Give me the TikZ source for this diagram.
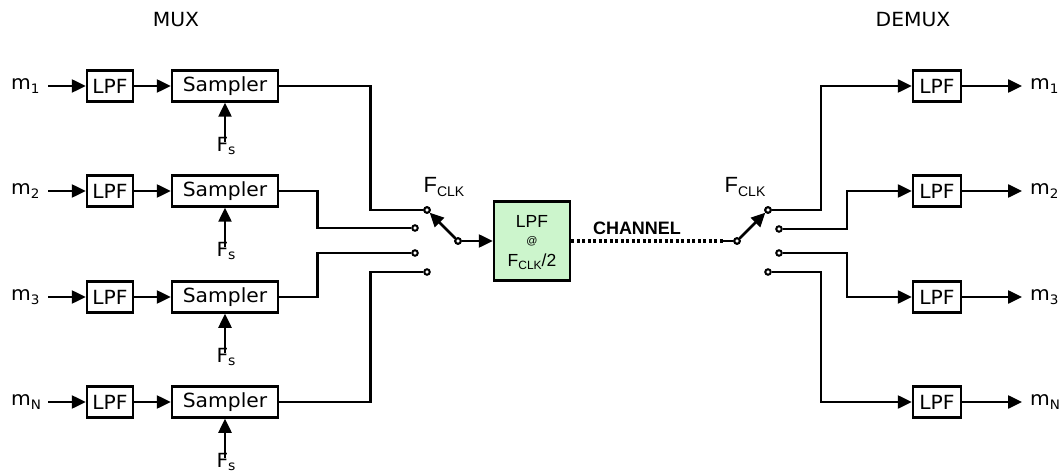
\documentclass[tikz,border=0pt]{standalone}
\usepackage{fontspec}
\setmainfont{DejaVu Sans}[FakeStretch=1.04]
\newfontfamily\arialf{Liberation Sans}
\usetikzlibrary{arrows.meta}
\tikzset{
  wire/.style={line width=2.5pt},
  arr/.style={wire,-{Triangle[length=14pt,width=13pt]}},
  blk/.style={draw,line width=2.5pt,rectangle,inner sep=0pt,minimum height=31pt,font=\fontsize{19.5}{20}\selectfont},
  lpfbox/.style={blk,minimum width=46pt},
  sampbox/.style={blk,minimum width=106pt},
  lbl/.style={inner sep=0pt,font=\fontsize{19.5}{20}\selectfont},
  contact/.style={circle,draw,fill=white,line width=2pt,inner sep=0pt,minimum size=5.5pt},
}
\newcommand{\msub}[1]{m\raisebox{-0.35ex}{\fontsize{13}{13}\selectfont #1}}
\newcommand{\fsub}{F\raisebox{-0.35ex}{\fontsize{13.5}{13}\selectfont s}}
\newcommand{\fclk}{{\arialf\fontsize{22}{22}\selectfont F\raisebox{-0.3ex}{\fontsize{14}{14}\selectfont CLK}}}
\begin{document}
\begin{tikzpicture}[x=1pt,y=-1pt]
\useasboundingbox (0,0) rectangle (1063,473);
% headings
\node[lbl] (mux) at (176,20) {MUX};
\node[lbl] (demux) at (913,20) {DEMUX};
% left rows
\foreach \r/\y/\s in {1/86/1,2/191/2,3/297/3,4/402/N}{
  \node[lbl,anchor=west] (mL\r) at (11,\y) {\msub{\s}};
  \node[lpfbox] (lpfL\r) at (110,\y) {LPF};
  \node[sampbox] (samp\r) at (225,\y) {Sampler};
  \node[lbl] (fs\r) at (226,\y+60) {\fsub};
  \draw[arr] (48,\y) -- (lpfL\r.west);
  \draw[arr] (lpfL\r.east) -- (samp\r.west);
  \draw[arr] ([yshift=-5pt]fs\r.north -| samp\r.south) -- (samp\r.south);
}
% left contacts and pivot
\node[contact] (cL1) at (427,210) {};
\node[contact] (cL2) at (415,228) {};
\node[contact] (cL3) at (415,253) {};
\node[contact] (cL4) at (427,272) {};
\node[contact] (pL) at (458,241) {};
\draw[wire] (samp1.east) -- ++(91,0) |- (cL1.west);
\draw[wire] (samp2.east) -- ++(38,0) |- (cL2.west);
\draw[wire] (samp3.east) -- ++(38,0) |- (cL3.west);
\draw[wire] (samp4.east) -- ++(91,0) |- (cL4.west);
\node[inner sep=0pt] (fclkL) at (444,187) {\fclk};
% green filter
\node[draw,line width=2.5pt,fill={rgb,255:red,204;green,245;blue,204},minimum width=76pt,minimum height=79pt,inner sep=0pt] (gbox) at (532,241) {};
\node[inner sep=0pt,font=\arialf\fontsize{17.5}{17}\selectfont] (gt1) at (532,221) {LPF};
\node[inner sep=0pt,font=\arialf\fontsize{11}{11}\selectfont] (gt2) at (532,241) {@};
\node[inner sep=0pt,font=\arialf\fontsize{17.5}{17}\selectfont] (gt3) at (532,262) {F\raisebox{-0.3ex}{\fontsize{12}{12}\selectfont CLK}/2};
\draw[arr] (pL) -- (cL1);
\draw[arr] (pL.east) -- (gbox.west);
\node[contact] (pL) at (458,241) {};
\node[contact] (cL1) at (427,210) {};
% channel
\node[contact] (pR) at (737,241) {};
\coordinate (dEnd) at (723,241);
\draw[line width=3.2pt,dash pattern=on 3pt off 2.5pt] (gbox.east) -- (dEnd);
\draw[wire] (dEnd) -- (pR.west);
\node[inner sep=0pt,font=\arialf\bfseries\fontsize{18}{18}\selectfont] (chan) at (637,228) {CHANNEL};
% right contacts
\node[contact] (cR1) at (768,210) {};
\node[contact] (cR2) at (779,229) {};
\node[contact] (cR3) at (779,253) {};
\node[contact] (cR4) at (768,272) {};
\draw[arr] (pR) -- (cR1);
\node[contact] (pR) at (737,241) {};
\node[contact] (cR1) at (768,210) {};
\node[inner sep=0pt] (fclkR) at (745,187) {\fclk};
% right rows
\foreach \r/\y/\s in {1/86/1,2/191/2,3/297/3,4/402/N}{
  \node[lpfbox,minimum width=48pt] (lpfR\r) at (937,\y) {LPF};
  \node[lbl,anchor=west] (mR\r) at (1030,\y) {\msub{\s}};
  \draw[arr] (lpfR\r.east) -- (1022,\y);
}
\draw[arr] (cR1.east) -- ++(49,0) |- (lpfR1.west);
\draw[arr] (cR2.east) -- ++(64,0) |- (lpfR2.west);
\draw[arr] (cR3.east) -- ++(64,0) |- (lpfR3.west);
\draw[arr] (cR4.east) -- ++(49,0) |- (lpfR4.west);
\end{tikzpicture}
\end{document}
